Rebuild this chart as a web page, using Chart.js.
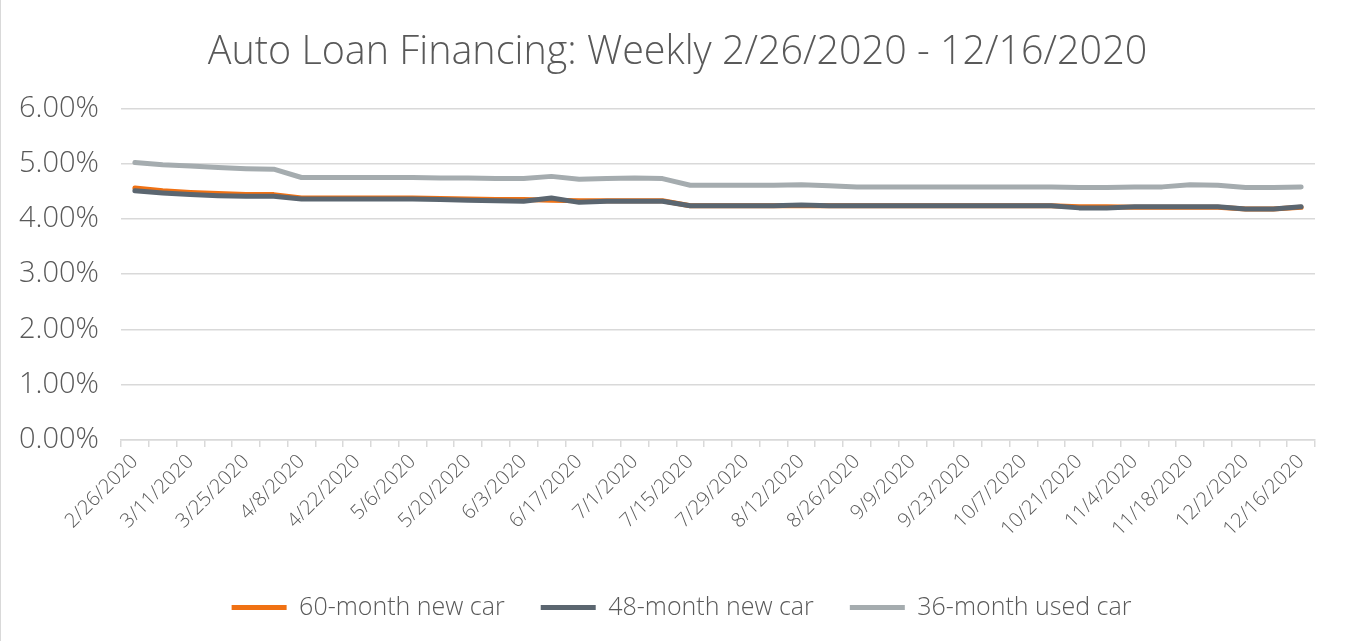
<!DOCTYPE html>
<html>
<head>
<meta charset="utf-8">
<script src="https://cdn.jsdelivr.net/npm/chart.js@4.4.0/dist/chart.umd.min.js"></script>
<style>
  html, body { margin: 0; padding: 0; background: #fff; }
  #wrap { position: relative; width: 1349px; height: 641px; box-sizing: border-box; border-left: 1px solid #d9d9d9; }
</style>
</head>
<body>
<div id="wrap"><canvas id="loanChart" width="1348" height="641"></canvas></div>
<script>
// weekly observations, 2/26/2020 - 12/16/2020
const weeks = ['2/26/2020', '3/4/2020', '3/11/2020', '3/18/2020', '3/25/2020', '4/1/2020', '4/8/2020',
    '4/15/2020', '4/22/2020', '4/29/2020', '5/6/2020', '5/13/2020', '5/20/2020', '5/27/2020', '6/3/2020',
    '6/10/2020', '6/17/2020', '6/24/2020', '7/1/2020', '7/8/2020', '7/15/2020', '7/22/2020', '7/29/2020',
    '8/5/2020', '8/12/2020', '8/19/2020', '8/26/2020', '9/2/2020', '9/9/2020', '9/16/2020', '9/23/2020',
    '9/30/2020', '10/7/2020', '10/14/2020', '10/21/2020', '10/28/2020', '11/4/2020', '11/11/2020',
    '11/18/2020', '11/25/2020', '12/2/2020', '12/9/2020', '12/16/2020'];

const newCar60 = [4.56, 4.51, 4.48, 4.46, 4.44, 4.44, 4.38, 4.38, 4.38, 4.38, 4.38, 4.37, 4.36, 4.35, 4.35,
    4.34, 4.33, 4.33, 4.33, 4.33, 4.24, 4.24, 4.24, 4.24, 4.24, 4.24, 4.24, 4.24, 4.24, 4.24, 4.24,
    4.24, 4.24, 4.24, 4.22, 4.22, 4.21, 4.21, 4.21, 4.21, 4.18, 4.18, 4.21];
const newCar48 = [4.51, 4.47, 4.44, 4.42, 4.41, 4.41, 4.36, 4.36, 4.36, 4.36, 4.36, 4.35, 4.34, 4.33, 4.32,
    4.38, 4.30, 4.32, 4.32, 4.32, 4.24, 4.24, 4.24, 4.24, 4.25, 4.24, 4.24, 4.24, 4.24, 4.24, 4.24,
    4.24, 4.24, 4.24, 4.20, 4.20, 4.22, 4.22, 4.22, 4.22, 4.18, 4.18, 4.22];
const usedCar36 = [5.02, 4.98, 4.96, 4.93, 4.91, 4.90, 4.75, 4.75, 4.75, 4.75, 4.75, 4.74, 4.74, 4.73, 4.73,
    4.77, 4.72, 4.73, 4.74, 4.73, 4.61, 4.61, 4.61, 4.61, 4.62, 4.60, 4.58, 4.58, 4.58, 4.58, 4.58,
    4.58, 4.58, 4.58, 4.57, 4.57, 4.58, 4.58, 4.62, 4.61, 4.57, 4.57, 4.58];

const seriesNames = ['60-month new car', '48-month new car', '36-month used car'];
const seriesColors = ['#f07113', '#5b6670', '#a5acaf'];

const textColor = '#595959';
const fontFamily = "'Open Sans', sans-serif";

function lineSet(i, values, order) {
    return {
        label: seriesNames[i],
        data: values,
        borderColor: seriesColors[i],
        backgroundColor: seriesColors[i],
        borderWidth: 5,
        borderCapStyle: 'round',
        borderJoinStyle: 'round',
        pointRadius: 0,
        tension: 0,
        order: order
    };
}

// title and legend sit a bit right of the canvas centre in the original
const nudgeCentre = {
    id: 'nudgeCentre',
    afterLayout(chart) {
        chart.titleBlock.left += 17;
        chart.titleBlock.right += 17;
        chart.legend.left += 21;
        chart.legend.right += 21;
    }
};

const ctx = document.getElementById('loanChart').getContext('2d');

new Chart(ctx, {
    type: 'line',
    data: {
        labels: weeks,
        datasets: [
            lineSet(0, newCar60, 2),
            lineSet(1, newCar48, 1),
            lineSet(2, usedCar36, 0)
        ]
    },
    options: {
        responsive: false,
        animation: false,
        layout: { padding: { left: 5, right: 34, top: 0, bottom: 11 } },
        plugins: {
            title: {
                display: true,
                text: 'Auto Loan Financing: Weekly 2/26/2020 - 12/16/2020',
                color: textColor,
                font: { family: fontFamily, size: 39.5, weight: '300' },
                padding: { top: 29, bottom: 32 }
            },
            legend: {
                position: 'bottom',
                labels: {
                    color: textColor,
                    font: { family: fontFamily, size: 25, weight: '300' },
                    usePointStyle: true,
                    pointStyle: 'line',
                    pointStyleWidth: 55,
                    boxHeight: 5,
                    padding: 36,
                    sort: (a, b) => a.datasetIndex - b.datasetIndex
                }
            },
            tooltip: { enabled: false }
        },
        scales: {
            x: {
                offset: true,
                grid: {
                    offset: true,
                    drawOnChartArea: false,
                    tickLength: 7,
                    color: '#d9d9d9',
                    lineWidth: 1.5
                },
                border: { color: '#d9d9d9', width: 1.5 },
                ticks: {
                    autoSkip: false,
                    minRotation: 45,
                    maxRotation: 45,
                    color: textColor,
                    font: { family: fontFamily, size: 20, weight: '300' },
                    callback: function (value, index) {
                        return index % 2 === 0 ? weeks[index] : '';
                    }
                },
                afterFit: function (scale) { scale.height = 119; }
            },
            y: {
                min: 0,
                max: 6,
                border: { display: false },
                grid: { color: '#d9d9d9', lineWidth: 1.5, drawTicks: false },
                ticks: {
                    stepSize: 1,
                    padding: 22,
                    color: textColor,
                    font: { family: fontFamily, size: 29, weight: '300' },
                    callback: function (value) { return value.toFixed(2) + '%'; }
                },
                afterFit: function (scale) { scale.width = 115; }
            }
        }
    },
    plugins: [nudgeCentre]
});
</script>
</body>
</html>
